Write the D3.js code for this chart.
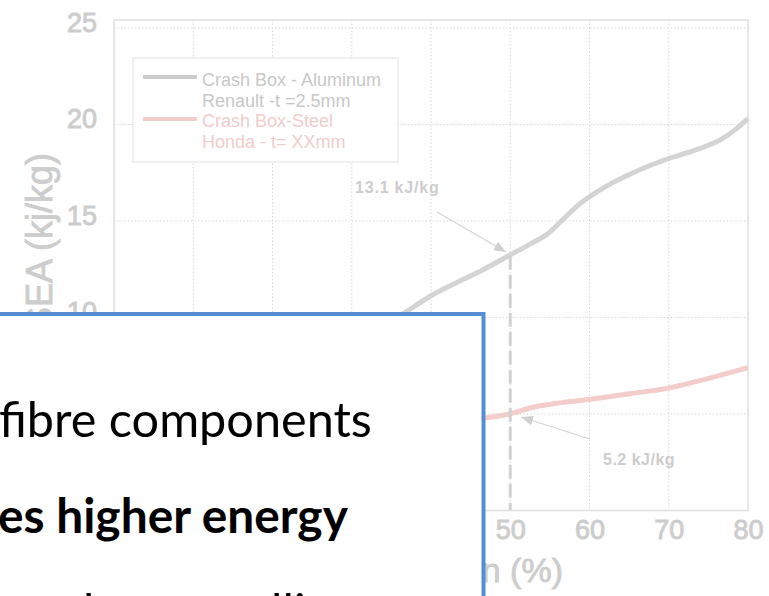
<!DOCTYPE html>
<html><head><meta charset="utf-8">
<script src="https://cdn.jsdelivr.net/npm/d3@7"></script>
<style>html,body{margin:0;padding:0;background:#fff;overflow:hidden}</style>
</head><body>
<svg id="c" width="769" height="596"></svg>
<script>
// ---- data ----
const xTicks = [0, 10, 20, 30, 40, 50, 60, 70, 80];
const yTicks = [0, 5, 10, 15, 20, 25];
const aluminumX = [0, 10, 20, 30, 36.9, 39.9, 43.2, 46.2, 49.8, 52.5, 54.6, 56.7, 58.8, 60.9, 63, 65.5, 69.7, 73.5, 76.5, 78.6, 80];
const aluminumY = [0, 3.5, 6, 8.4, 10.3, 11.1, 11.8, 12.4, 13.2, 13.8, 14.3, 15.1, 15.9, 16.5, 17.0, 17.5, 18.2, 18.7, 19.2, 19.8, 20.3];
const steelX = [0, 10, 20, 30, 40, 47, 49.9, 52.9, 55, 59.9, 65.1, 70, 72.7, 76, 80];
const steelY = [0, 2.5, 3.4, 4.0, 4.5, 4.8, 5.0, 5.35, 5.5, 5.75, 6.05, 6.35, 6.6, 6.95, 7.4];
const legendLines = ["Crash Box - Aluminum", "Renault -t =2.5mm", "Crash Box-Steel", "Honda - t= XXmm"];
const markerX = 50;
const alLabel = "13.1 kJ/kg";
const stLabel = "5.2 kJ/kg";
const yTitle = "SEA (kj/kg)";
const xTitle = "Deformation (%)";
const slideLines = ["fibre components", "es higher energy", "compared to metallic"];

// ---- chart ----
const svg = d3.select("#c");
const x = d3.scaleLinear().domain([0, 80]).range([114, 748]);
const y = d3.scaleLinear().domain([0, 25]).range([510.5, 28]);
const grey = "#d4d4d4", pink = "#f3cccc", txt = "#cdcdcd";
const af = "Liberation Sans, Arial, sans-serif";

const g = svg.append("g");
// gridlines
g.selectAll(".vg").data(xTicks.filter(d => d > 0 && d < 80)).join("line")
  .attr("x1", d => x(d)).attr("x2", d => x(d)).attr("y1", 20).attr("y2", 510.5)
  .attr("stroke", "#d8d8d8").attr("stroke-width", 1).attr("stroke-dasharray", "1.5,2");
g.selectAll(".hg").data(yTicks.filter(d => d > 0)).join("line")
  .attr("x1", 114).attr("x2", 748).attr("y1", d => y(d)).attr("y2", d => y(d))
  .attr("stroke", "#d8d8d8").attr("stroke-width", 1).attr("stroke-dasharray", "1.5,2");
// frame
g.append("rect").attr("x", 114).attr("y", 20).attr("width", 634).attr("height", 490.5)
  .attr("fill", "none").attr("stroke", "#e0e0e0").attr("stroke-width", 1.5);

// axes via d3 axis
const yAxis = d3.axisLeft(y).tickValues(yTicks).tickSize(0).tickPadding(17);
const ya = g.append("g").attr("transform", "translate(114,0)").call(yAxis);
ya.select(".domain").remove();
ya.selectAll("text").attr("fill", txt).attr("stroke", txt).attr("stroke-width", 0.9)
  .attr("font-family", af).attr("font-size", 27).attr("dy", "0.12em");
const xAxis = d3.axisBottom(x).tickValues(xTicks).tickSize(0).tickPadding(10);
const xa = g.append("g").attr("transform", "translate(0,510.5)").call(xAxis);
xa.select(".domain").remove();
xa.selectAll("text").attr("fill", txt).attr("stroke", txt).attr("stroke-width", 0.9)
  .attr("font-family", af).attr("font-size", 27).attr("dy", "0.7em");

// axis titles
g.append("text").attr("transform", "translate(52,153) rotate(-90)").attr("text-anchor", "end")
  .attr("fill", txt).attr("stroke", txt).attr("stroke-width", 0.8)
  .attr("font-family", af).attr("font-size", 36)
  .text(yTitle);
g.append("text").attr("x", 563).attr("y", 582).attr("text-anchor", "end")
  .attr("fill", txt).attr("stroke", txt).attr("stroke-width", 0.8)
  .attr("font-family", af).attr("font-size", 34)
  .text(xTitle);

// legend
g.append("rect").attr("x", 133).attr("y", 58).attr("width", 265).attr("height", 104)
  .attr("fill", "#fff").attr("stroke", "#e2e2e2").attr("stroke-width", 1);
g.append("line").attr("x1", 143).attr("x2", 197).attr("y1", 77).attr("y2", 77).attr("stroke", "#cccccc").attr("stroke-width", 4);
g.append("line").attr("x1", 143).attr("x2", 197).attr("y1", 119).attr("y2", 119).attr("stroke", pink).attr("stroke-width", 4);
const lgY = [86, 107, 127, 148];
g.selectAll(".lt").data(legendLines).join("text")
  .attr("x", 202).attr("y", (d, i) => lgY[i])
  .attr("fill", (d, i) => i < 2 ? "#c8c8c8" : "#f1cccc")
  .attr("font-family", af).attr("font-size", 18)
  .text(d => d);

// series
const line = d3.line().x(d => x(d[0])).y(d => y(d[1])).curve(d3.curveMonotoneX);
g.append("path").datum(aluminumX.map((v, i) => [v, aluminumY[i]]))
  .attr("d", line).attr("fill", "none").attr("stroke", grey).attr("stroke-width", 5);
g.append("path").datum(steelX.map((v, i) => [v, steelY[i]]))
  .attr("d", line).attr("fill", "none").attr("stroke", pink).attr("stroke-width", 5);

// marker dashed line at x=50
const alAt50 = aluminumY[aluminumX.indexOf(49.8)];
g.append("line").attr("x1", x(markerX)).attr("x2", x(markerX)).attr("y1", y(alAt50)).attr("y2", 510)
  .attr("stroke", "#d2d2d2").attr("stroke-width", 3).attr("stroke-dasharray", "14,5");

// annotations
const defs = svg.append("defs");
defs.append("marker").attr("id", "ah").attr("viewBox", "0 0 10 10").attr("refX", 10).attr("refY", 5)
  .attr("markerWidth", 12).attr("markerHeight", 12).attr("markerUnits", "userSpaceOnUse").attr("orient", "auto")
  .append("path").attr("d", "M0,1 L10,5 L0,9 Z").attr("fill", "#d0d0d0");
g.append("line").attr("x1", 437).attr("y1", 212).attr("x2", 506).attr("y2", 252)
  .attr("stroke", "#d4d4d4").attr("stroke-width", 1.2).attr("marker-end", "url(#ah)");
g.append("line").attr("x1", 590).attr("y1", 439).attr("x2", 521).attr("y2", 417)
  .attr("stroke", "#d4d4d4").attr("stroke-width", 1.2).attr("marker-end", "url(#ah)");
g.append("text").attr("x", 355).attr("y", 193).attr("fill", txt).attr("font-weight", "bold")
  .attr("font-family", af).attr("font-size", 16).attr("letter-spacing", 0.8)
  .text(alLabel);
g.append("text").attr("x", 603).attr("y", 465).attr("fill", txt).attr("font-weight", "bold")
  .attr("font-family", af).attr("font-size", 16).attr("letter-spacing", 0.5)
  .text(stLabel);

// ---- overlay slide text box ----
svg.append("rect").attr("x", -20).attr("y", 314).attr("width", 503.5).attr("height", 320)
  .attr("fill", "#fff").attr("stroke", "#558ed5").attr("stroke-width", 4);
const fam = "Lato, 'Open Sans', sans-serif";
function fitText(sel, target) {
  const w = sel.node().getComputedTextLength();
  const fs = +sel.attr("font-size");
  sel.attr("font-size", fs * target / w);
}
const t1 = svg.append("text").attr("x", -1).attr("y", 437).attr("font-family", fam).attr("font-size", 50)
  .attr("fill", "#000").text(slideLines[0]);
fitText(t1, 373);
const t2 = svg.append("text").attr("x", -2).attr("y", 533).attr("font-family", fam).attr("font-size", 50)
  .attr("font-weight", "bold").attr("fill", "#000").text(slideLines[1]);
fitText(t2, 350);
const t3 = svg.append("text").attr("x", 0).attr("y", 629).attr("font-family", fam)
  .attr("font-size", t1.attr("font-size"))
  .attr("fill", "#000").text(slideLines[2]);
const dPos = t3.node().getStartPositionOfChar(7).x;
t3.attr("x", 67 - dPos);
</script>
</body></html>
